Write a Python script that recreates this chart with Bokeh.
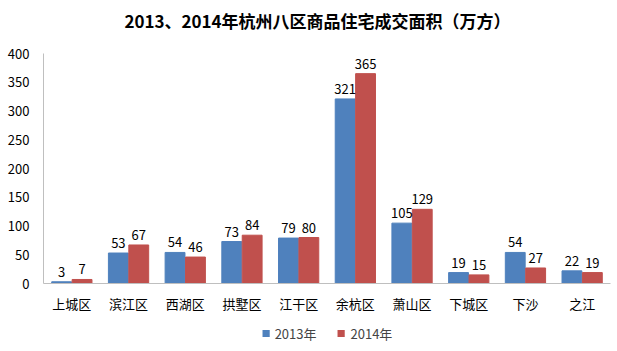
from bokeh.plotting import figure
from bokeh.models import ColumnDataSource, FactorRange, Legend, LegendItem, LabelSet, Label, FixedTicker
from bokeh.core.properties import value
from bokeh.transform import dodge
from bokeh.layouts import column
from bokeh.embed import file_html
from bokeh.resources import INLINE

categories = ["上城区", "滨江区", "西湖区", "拱墅区", "江干区", "余杭区", "萧山区", "下城区", "下沙", "之江"]
y2013 = [3, 53, 54, 73, 79, 321, 105, 19, 54, 22]
y2014 = [7, 67, 46, 84, 80, 365, 129, 15, 27, 19]
yticks = [0, 50, 100, 150, 200, 250, 300, 350, 400]
series_names = ["2013年", "2014年"]
title_text = "2013、2014年杭州八区商品住宅成交面积（万方）"

FONT = "Noto Sans CJK SC"
BLUE = "#4F81BD"
RED = "#C0504D"

src = ColumnDataSource(dict(
    cat=categories, a=y2013, b=y2014,
    la=[str(v) for v in y2013], lb=[str(v) for v in y2014],
))

# title strip
pt = figure(width=617, height=40, output_backend="svg", toolbar_location=None,
            x_range=(0, 1), y_range=(0, 1), min_border=0, title=None)
pt.axis.visible = False
pt.grid.visible = False
pt.outline_line_color = None
pt.add_layout(Label(x=274, y=20, x_units="screen", y_units="screen", text=title_text,
                    text_align="center", text_baseline="middle", text_font=FONT,
                    text_font_size="17px", text_font_style="bold", text_color="#000000"))

p = figure(x_range=FactorRange(factors=categories, range_padding=0), y_range=(0, 400),
           width=617, height=283, output_backend="svg", toolbar_location=None, title=None,
           min_border_left=43, min_border_right=7, min_border_top=13, min_border_bottom=40)

r1 = p.vbar(x=dodge("cat", -0.18, range=p.x_range), top="a", width=0.35, source=src,
            fill_color=BLUE, line_color=BLUE)
r2 = p.vbar(x=dodge("cat", 0.18, range=p.x_range), top="b", width=0.35, source=src,
            fill_color=RED, line_color=RED)

for col, lab, off in (("a", "la", -0.18), ("b", "lb", 0.18)):
    p.add_layout(LabelSet(x=dodge("cat", off, range=p.x_range), y=col, text=lab, source=src,
                          y_offset=5, text_align="center", text_baseline="bottom",
                          text_font=value(FONT), text_font_size=value("13px"),
                          text_color="#000000"))

p.xgrid.visible = False
p.ygrid.visible = False
p.outline_line_color = None

p.yaxis.ticker = FixedTicker(ticks=yticks)
for ax in (p.xaxis, p.yaxis):
    ax.axis_line_color = "#BFBFBF"
    ax.major_tick_line_color = None
    ax.minor_tick_line_color = None
    ax.major_label_text_font = FONT
    ax.major_label_text_font_size = "13px"
    ax.major_label_text_color = "#000000"
p.xaxis.major_label_standoff = 4
p.yaxis.major_label_standoff = 8

# legend strip
p2 = figure(width=617, height=20, output_backend="svg", toolbar_location=None,
            x_range=(0, 1), y_range=(0, 1), min_border=0, title=None)
p2.axis.visible = False
p2.grid.visible = False
p2.outline_line_color = None
e1 = p2.vbar(x=[0.5], top=[0], bottom=[0], width=0.0, fill_color=BLUE, line_color=None)
e2 = p2.vbar(x=[0.5], top=[0], bottom=[0], width=0.0, fill_color=RED, line_color=None)
legend = Legend(items=[LegendItem(label=series_names[0], renderers=[e1]),
                       LegendItem(label=series_names[1], renderers=[e2])],
                orientation="horizontal", location="center",
                label_text_font=FONT, label_text_font_size="13px",
                glyph_width=9, glyph_height=9, spacing=20,
                border_line_color=None, background_fill_alpha=0,
                padding=0, margin=0)
p2.add_layout(legend)

open("out.html", "w").write(file_html(column(pt, p, p2, spacing=0), INLINE))
